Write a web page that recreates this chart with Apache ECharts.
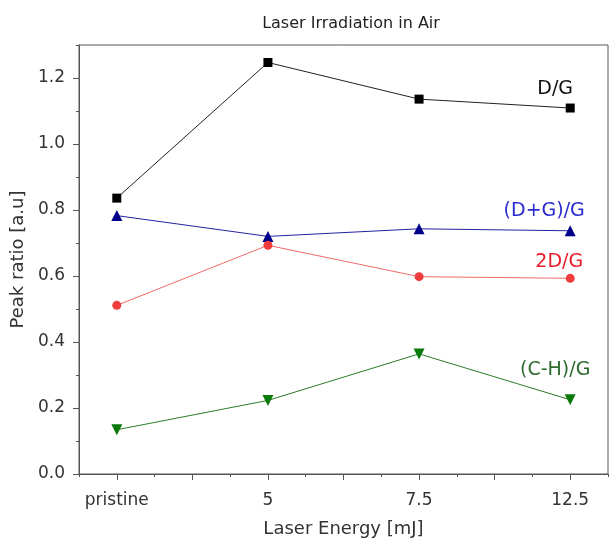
<!DOCTYPE html>
<html>
<head>
<meta charset="utf-8">
<script src="https://cdn.jsdelivr.net/npm/echarts@6/dist/echarts.min.js"></script>
<style>
  html, body { margin: 0; padding: 0; background: #fff; }
  #chart { width: 611px; height: 547px; }
</style>
</head>
<body>
<div id="chart"></div>
<script>
// categories along x, placed at 1..4 on a value axis
var categories = ['pristine', '5', '7.5', '12.5'];
var xPos = [1, 2, 3, 4];

// peak ratios
var dgValues = [0.836, 1.247, 1.136, 1.109];
var dggValues = [0.783, 0.720, 0.743, 0.737];
var twoDgValues = [0.511, 0.693, 0.598, 0.593];
var chgValues = [0.134, 0.223, 0.364, 0.225];

var yTickLabels = [0, 0.2, 0.4, 0.6, 0.8, 1.0, 1.2];
var xMajorTicks = [1, 1.5, 2, 2.5, 3, 3.5, 4];

var FONT = 'DejaVu Sans';

// build [x, y] points, the last one carries the series name as a label
function buildData(values, name, color, offset) {
  return values.map(function (v, i) {
    if (i === values.length - 1) {
      return {
        value: [xPos[i], v],
        label: {
          show: true,
          position: 'inside',
          formatter: name,
          color: color,
          fontFamily: FONT,
          fontSize: 19,
          offset: offset
        }
      };
    }
    return [xPos[i], v];
  });
}

function lineSeries(name, values, lineColor, symColor, symbol, size, rotate, labelColor, offset) {
  return {
    name: name,
    type: 'line',
    xAxisIndex: 0,
    yAxisIndex: 0,
    symbol: symbol,
    symbolSize: size,
    symbolRotate: rotate,
    showAllSymbol: true,
    lineStyle: { color: lineColor, width: 1 },
    itemStyle: { color: symColor },
    label: { show: false },
    emphasis: { disabled: true },
    data: buildData(values, name, labelColor, offset)
  };
}

var chart = echarts.init(document.getElementById('chart'));

var option = {
  animation: false,
  backgroundColor: '#fff',
  title: {
    text: 'Laser Irradiation in Air',
    left: 346,
    top: 11,
    textAlign: 'center',
    textStyle: { fontFamily: FONT, fontSize: 16, fontWeight: 'normal', color: '#222' }
  },
  grid: {
    left: 79, right: 3, top: 45, bottom: 73,
    show: true,
    borderColor: '#555',
    borderWidth: 1,
    backgroundColor: 'transparent'
  },
  xAxis: [
    {
      type: 'value',
      min: 0.75,
      max: 4.25,
      interval: 0.25,
      position: 'bottom',
      axisLine: { show: true, onZero: false, lineStyle: { color: '#555', width: 1 } },
      axisTick: { show: true, length: 3, lineStyle: { color: '#555' } },
      axisLabel: { show: false },
      splitLine: { show: false }
    },
    {
      type: 'value',
      min: 0.75,
      max: 4.25,
      position: 'bottom',
      axisLine: { show: false, onZero: false },
      axisTick: { show: true, length: 6, customValues: xMajorTicks, lineStyle: { color: '#555' } },
      axisLabel: {
        show: true,
        customValues: xPos,
        margin: 18,
        fontFamily: FONT,
        fontSize: 17,
        color: '#333',
        formatter: function (v) {
          var i = xPos.indexOf(v);
          return i >= 0 ? categories[i] : '';
        }
      },
      splitLine: { show: false },
      name: 'Laser Energy [mJ]',
      nameLocation: 'middle',
      nameGap: 46,
      nameTextStyle: { fontFamily: FONT, fontSize: 18, color: '#333' }
    }
  ],
  yAxis: [
    {
      type: 'value',
      min: 0,
      max: 1.3,
      interval: 0.1,
      position: 'left',
      axisLine: { show: true, onZero: false, lineStyle: { color: '#555', width: 1 } },
      axisTick: { show: true, length: 3, lineStyle: { color: '#555' } },
      axisLabel: { show: false },
      splitLine: { show: false }
    },
    {
      type: 'value',
      min: 0,
      max: 1.3,
      position: 'left',
      axisLine: { show: false, onZero: false },
      axisTick: { show: true, length: 6, customValues: yTickLabels, lineStyle: { color: '#555' } },
      axisLabel: {
        show: true,
        customValues: yTickLabels,
        margin: 14,
        fontFamily: FONT,
        fontSize: 17,
        color: '#333',
        formatter: function (v) { return v.toFixed(1); }
      },
      splitLine: { show: false },
      name: 'Peak ratio [a.u]',
      nameLocation: 'middle',
      nameGap: 44,
      nameTextStyle: { fontFamily: FONT, fontSize: 18, color: '#333' }
    }
  ],
  series: [
    lineSeries('D/G', dgValues, '#222', '#000', 'rect', 9, 0, '#111', [-15, -19]),
    lineSeries('(D+G)/G', dggValues, '#2222a0', '#00008b', 'triangle', 11, 0, '#2a2ad0', [-26, -20]),
    lineSeries('2D/G', twoDgValues, '#f06a6a', '#f03c3c', 'circle', 9, 0, '#e8202a', [-11, -16]),
    lineSeries('(C-H)/G', chgValues, '#2a7d2a', '#0a7a0a', 'triangle', 11, 180, '#2e6b2e', [-15, -30])
  ]
};

chart.setOption(option);
</script>
</body>
</html>
